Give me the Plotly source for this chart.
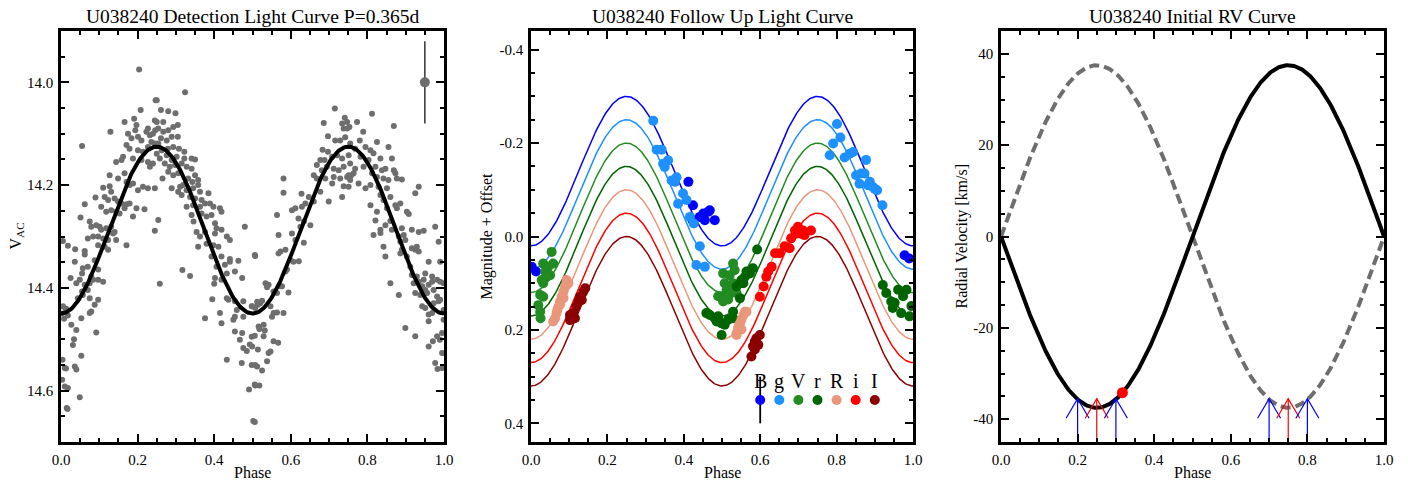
import numpy as np
import plotly.graph_objects as go

FONT = "Liberation Serif"

# ---------------- Panel 1: detection light curve ----------------
det_phase = [
 0.204,0.247,0.208,0.245,0.166,0.191,0.197,0.194,0.129,0.175,0.184,0.201,0.210,0.223,0.227,0.232,0.240,0.246,
 0.055,0.171,0.179,0.201,0.214,0.227,0.236,0.245,0.162,0.188,0.210,0.227,0.240,0.232,0.144,0.158,
 0.127,0.149,0.166,0.171,0.179,0.188,0.201,0.214,0.227,0.245,0.110,0.127,0.131,0.114,0.123,0.140,0.149,0.158,0.171,0.179,
 0.090,0.062,0.105,0.118,0.131,0.144,0.153,0.166,0.188,0.197,0.218,0.051,0.075,0.079,0.092,0.101,0.105,0.118,0.131,0.140,
 0.070,0.084,0.097,0.110,0.123,0.136,0.144,0.245,0.005,0.018,0.037,0.062,0.097,0.114,0.123,0.171,
 0.062,0.036,0.057,0.070,0.088,0.097,0.079,0.055,0.049,0.025,0.040,0.062,0.075,0.084,0.097,0.110,
 0.055,0.070,0.044,0.057,0.075,0.088,0.097,0.079,0.005,0.014,0.018,0.027,0.040,0.053,0.075,0.092,
 0.034,0.031,0.010,0.036,0.040,0.053,0.010,0.018,0.049,0.017,0.003,0.004,0.013,0.015,0.002,0.008,0.012,
 0.324,0.250,0.261,0.280,0.299,0.250,0.267,0.254,0.267,0.280,0.293,0.305,0.261,0.276,0.289,0.305,0.254,
 0.263,0.279,0.293,0.308,0.322,0.250,0.258,0.276,0.289,0.302,0.322,0.341,0.350,0.271,0.284,0.298,0.315,0.328,0.341,
 0.280,0.293,0.306,0.350,0.332,0.358,0.343,0.265,0.289,0.311,0.319,0.328,0.345,0.358,0.363,0.306,0.315,0.337,0.350,0.367,0.385,
 0.328,0.345,0.363,0.376,0.389,0.398,0.415,0.419,0.341,0.367,0.380,0.393,0.254,0.346,0.402,0.406,0.419,0.480,
 0.354,0.363,0.376,0.402,0.433,0.441,0.358,0.380,0.398,0.411,0.393,0.419,0.441,0.463,0.506,0.406,0.428,0.441,
 0.317,0.337,0.454,0.473,0.258,0.402,0.419,0.433,0.400,0.433,0.437,0.454,0.476,0.498,0.395,
 0.415,0.459,0.454,0.450,0.476,0.376,0.419,0.454,0.473,0.467,0.476,0.485,0.493,0.498,0.433,0.472,0.498,0.506,0.491,0.502,
 0.715,0.741,0.734,0.738,0.747,0.753,0.686,0.697,0.716,0.729,0.742,0.683,0.697,0.708,0.721,0.734,0.751,
 0.677,0.688,0.668,0.681,0.694,0.712,0.725,0.738,0.660,0.668,0.690,0.712,0.729,0.747,0.758,0.708,0.738,
 0.581,0.581,0.677,0.628,0.647,0.660,0.734,0.699,0.603,0.612,0.629,0.638,0.564,0.620,0.634,0.651,0.625,
 0.568,0.603,0.612,0.634,0.573,0.586,0.568,0.599,0.607,0.621,0.507,0.586,0.590,0.534,0.542,0.538,0.573,
 0.555,0.564,0.577,0.594,0.512,0.520,0.525,0.499,0.507,0.514,0.547,0.555,0.564,0.581,0.551,
 0.516,0.529,0.518,0.532,0.506,0.529,0.555,0.567,0.499,0.514,0.547,0.542,0.538,0.507,0.525,0.512,0.507,0.518,0.506,
 0.812,0.773,0.747,0.869,0.789,0.780,0.795,0.808,0.825,0.755,0.768,0.855,0.864,0.834,0.816,0.803,0.782,
 0.755,0.768,0.790,0.821,0.838,0.847,0.869,0.873,0.751,0.764,0.755,0.812,0.825,0.842,0.855,0.877,0.890,
 0.751,0.777,0.795,0.808,0.829,0.851,0.934,0.925,0.834,0.842,0.860,0.873,0.886,0.877,0.903,0.908,0.808,0.825,0.851,
 0.821,0.860,0.834,0.847,0.864,0.977,0.816,0.834,0.890,0.916,0.934,0.947,0.882,0.895,0.886,0.899,0.986,
 0.842,0.890,0.916,0.925,0.934,0.929,0.847,0.886,0.903,0.960,0.990,0.912,0.916,0.929,0.951,0.969,0.947,0.982,0.990,0.999,
 0.860,0.921,0.934,0.943,0.951,0.960,0.969,0.882,0.925,0.938,0.956,0.973,0.982,0.990,0.943,0.951,0.973,0.986,
 0.960,0.969,0.999,0.960,0.999,0.899,0.925,0.995,0.982,0.989,0.971,0.960,0.995,0.977,0.983,0.995,
]
det_mag = [
 13.975,14.035,14.054,14.074,14.077,14.071,14.083,14.093,14.096,14.100,14.109,14.106,14.113,14.096,14.090,14.103,14.100,14.093,
 14.124,14.122,14.129,14.132,14.135,14.126,14.116,14.119,14.145,14.148,14.151,14.155,14.158,14.164,14.155,14.151,
 14.181,14.187,14.177,14.194,14.200,14.197,14.210,14.203,14.206,14.206,14.205,14.202,14.213,14.223,14.229,14.226,14.232,14.236,14.237,14.236,
 14.224,14.237,14.242,14.252,14.249,14.252,14.255,14.245,14.261,14.245,14.247,14.263,14.271,14.281,14.278,14.281,14.287,14.284,14.281,14.291,
 14.304,14.300,14.300,14.304,14.307,14.294,14.307,14.289,14.309,14.318,14.325,14.328,14.317,14.320,14.326,14.317,
 14.335,14.349,14.362,14.359,14.346,14.364,14.378,14.372,14.384,14.381,14.391,14.394,14.391,14.384,14.384,14.388,
 14.407,14.404,14.420,14.414,14.420,14.433,14.423,14.446,14.436,14.441,14.454,14.472,14.482,14.459,14.449,14.487,
 14.500,14.511,14.556,14.553,14.559,14.532,14.592,14.595,14.613,14.636,14.579,14.540,14.557,14.634,14.450,14.460,14.440,
 14.019,14.035,14.054,14.056,14.060,14.077,14.077,14.090,14.096,14.093,14.087,14.083,14.109,14.113,14.106,14.106,14.119,
 14.132,14.129,14.126,14.129,14.135,14.139,14.148,14.142,14.151,14.145,14.148,14.148,14.150,14.158,14.164,14.161,14.158,14.164,14.168,
 14.174,14.181,14.177,14.181,14.187,14.190,14.194,14.187,14.206,14.203,14.200,14.210,14.206,14.200,14.213,14.213,14.219,14.223,14.226,14.229,14.216,
 14.242,14.239,14.242,14.236,14.236,14.242,14.245,14.252,14.258,14.255,14.261,14.258,14.268,14.271,14.274,14.284,14.287,14.281,
 14.291,14.300,14.291,14.294,14.300,14.307,14.320,14.314,14.317,14.320,14.339,14.339,14.344,14.347,14.336,14.359,14.355,14.349,
 14.365,14.377,14.368,14.381,14.392,14.381,14.384,14.372,14.392,14.420,14.423,14.426,14.426,14.436,14.422,
 14.449,14.443,14.456,14.462,14.456,14.459,14.469,14.485,14.488,14.501,14.517,14.523,14.510,14.495,14.540,14.546,14.550,14.588,14.598,14.659,
 14.051,14.069,14.080,14.090,14.090,14.087,14.079,14.105,14.113,14.113,14.107,14.131,14.135,14.145,14.142,14.148,14.142,
 14.151,14.151,14.161,14.171,14.164,14.168,14.171,14.164,14.181,14.187,14.187,14.184,14.187,14.184,14.181,14.197,14.202,
 14.187,14.215,14.213,14.217,14.223,14.232,14.223,14.232,14.249,14.245,14.242,14.236,14.258,14.265,14.271,14.278,14.281,
 14.297,14.294,14.307,14.312,14.329,14.326,14.333,14.346,14.349,14.348,14.338,14.368,14.364,14.391,14.394,14.399,14.397,
 14.407,14.410,14.397,14.409,14.427,14.430,14.425,14.436,14.439,14.433,14.436,14.449,14.448,14.449,14.456,
 14.475,14.472,14.480,14.483,14.493,14.494,14.504,14.507,14.514,14.520,14.524,14.527,14.543,14.550,14.561,14.553,14.590,14.590,14.661,
 14.061,14.077,14.077,14.085,14.096,14.113,14.126,14.132,14.116,14.119,14.129,14.126,14.148,14.148,14.138,14.151,14.145,
 14.158,14.168,14.164,14.164,14.171,14.168,14.171,14.177,14.181,14.177,14.190,14.177,14.184,14.187,14.190,14.187,14.189,
 14.203,14.197,14.206,14.200,14.203,14.206,14.203,14.216,14.219,14.229,14.223,14.239,14.236,14.245,14.252,14.256,14.239,14.252,14.245,
 14.269,14.270,14.287,14.278,14.287,14.281,14.297,14.293,14.284,14.287,14.291,14.289,14.300,14.297,14.310,14.307,14.310,
 14.320,14.326,14.323,14.326,14.329,14.320,14.339,14.333,14.339,14.349,14.349,14.359,14.375,14.378,14.372,14.378,14.384,14.384,14.388,14.391,
 14.391,14.391,14.388,14.397,14.404,14.394,14.388,14.414,14.410,14.414,14.410,14.404,14.417,14.423,14.436,14.439,14.430,14.426,
 14.452,14.449,14.443,14.465,14.462,14.478,14.494,14.488,14.494,14.501,14.504,14.514,14.527,14.546,14.558,14.556,
]
det_model_mean = 14.2875
det_model_amp = 0.1625
det_err_phase = [0.95]
det_err_mag = [14.0]
det_err = [0.08]

# ---------------- Panel 2: follow-up light curves ----------------
band_names = ["B", "g", "V", "r", "R", "i", "I"]
band_colors = ["#0000ff", "#1e90ff", "#228b22", "#006400", "#e9967a", "#ff0000", "#8b0000"]
band_offsets = [-0.30, -0.25, -0.20, -0.15, -0.10, -0.05, 0.0]
fu_amp = 0.16

B_phase = [0.002,0.013,0.412,0.424,0.423,0.442,0.451,0.464,0.468,0.481,0.455,0.978,0.990]
B_mag = [0.065,0.075,-0.117,-0.067,-0.035,-0.042,-0.049,-0.053,-0.056,-0.035,-0.035,0.040,0.047]
g_phase = [0.320,0.329,0.342,0.346,0.359,0.350,0.368,0.377,0.381,0.385,0.398,0.407,0.416,0.426,0.442,0.433,0.455,
           0.782,0.791,0.801,0.810,0.821,0.834,0.843,0.877,0.851,0.864,0.873,0.860,0.887,0.895,0.906,0.920,0.900,0.882]
g_mag = [-0.248,-0.186,-0.186,-0.156,-0.163,-0.149,-0.120,-0.117,-0.127,-0.070,-0.092,-0.078,-0.042,-0.028,0.021,0.061,0.065,
         -0.174,-0.199,-0.241,-0.212,-0.169,-0.177,-0.181,-0.164,-0.131,-0.135,-0.135,-0.113,-0.117,-0.106,-0.099,-0.067,-0.102,-0.110]
V_phase = [0.054,0.032,0.045,0.037,0.050,0.058,0.028,0.041,0.032,0.024,0.032,0.019,0.024,0.025,
           0.503,0.520,0.529,0.507,0.529,0.512,0.499,0.490,0.503,0.525,0.538,0.516,0.533]
V_mag = [0.033,0.058,0.065,0.075,0.083,0.058,0.093,0.086,0.100,0.125,0.129,0.147,0.161,0.175,
         0.079,0.083,0.058,0.100,0.100,0.114,0.128,0.128,0.139,0.121,0.121,0.135,0.072]
r_phase = [0.592,0.581,0.573,0.560,0.551,0.564,0.547,0.556,0.538,0.547,0.459,0.468,0.481,0.486,0.499,0.507,0.516,0.529,0.490,0.529,0.499,
           0.921,0.930,0.943,0.952,0.961,0.974,0.983,0.996,0.991,0.969,0.947]
r_mag = [0.028,0.068,0.079,0.086,0.093,0.075,0.100,0.100,0.107,0.132,0.164,0.168,0.175,0.182,0.186,0.189,0.178,0.175,0.171,0.161,0.211,
         0.104,0.121,0.139,0.142,0.114,0.128,0.114,0.149,0.171,0.164,0.153]
R_phase = [0.093,0.089,0.085,0.080,0.076,0.072,0.067,0.063,0.058,0.093,0.098,0.085,0.076,0.069,
           0.538,0.542,0.547,0.551,0.556,0.560,0.564,0.551,0.538,0.545]
R_mag = [0.093,0.107,0.118,0.129,0.139,0.150,0.164,0.175,0.182,0.104,0.100,0.132,0.146,0.157,
         0.207,0.196,0.186,0.178,0.168,0.161,0.161,0.199,0.211,0.189]
i_phase = [0.599,0.609,0.621,0.630,0.639,0.651,0.664,0.677,0.681,0.694,0.707,0.716,0.733,0.699,0.691,0.712,0.616]
i_mag = [0.129,0.107,0.075,0.065,0.036,0.036,0.021,0.025,0.004,-0.006,-0.006,-0.003,-0.013,-0.021,-0.013,-0.013,0.086]
I_phase = [0.102,0.106,0.111,0.118,0.124,0.128,0.137,0.142,0.102,0.115,0.133,0.577,0.581,0.586,0.590,0.599,0.586,0.595]
I_mag = [0.179,0.172,0.164,0.150,0.140,0.129,0.118,0.111,0.168,0.175,0.136,0.257,0.235,0.225,0.218,0.211,0.242,0.232]

band_phases = [B_phase, g_phase, V_phase, r_phase, R_phase, i_phase, I_phase]
band_mags = [B_mag, g_mag, V_mag, r_mag, R_mag, i_mag, I_mag]

legend_phase = [0.60, 0.65, 0.70, 0.75, 0.80, 0.85, 0.90]
legend_dot_mag = 0.35
legend_text_mag = 0.31
fu_err_phase = [0.60]
fu_err_mag = [0.35]
fu_err = [0.05]

# ---------------- Panel 3: RV curve ----------------
rv_K = 37.5
rv_obs_phase = [0.317]
rv_obs_vel = [-34.2]
arrow_phase = [0.20, 0.25, 0.30, 0.70, 0.75, 0.80]
arrow_colors = ["#0000ff", "#ff0000", "#0000ff", "#0000ff", "#ff0000", "#0000ff"]
arrow_tip = -35.5
arrow_wing = -39.8
arrow_base = -45.0
arrow_half = 0.03

# tick labels
p1_yticks = [14.0, 14.2, 14.4, 14.6]
p1_yticktext = ["14.0", "14.2", "14.4", "14.6"]
p2_yticks = [-0.4, -0.2, 0.0, 0.2, 0.4]
p2_yticktext = ["-0.4", "-0.2", "0.0", "0.2", "0.4"]
p3_yticks = [-40, -20, 0, 20, 40]
p3_yticktext = ["-40", "-20", "0", "20", "40"]
x_ticks = [0.0, 0.2, 0.4, 0.6, 0.8, 1.0]
x_ticktext = ["0.0", "0.2", "0.4", "0.6", "0.8", "1.0"]

titles = ["U038240 Detection Light Curve P=0.365d",
          "U038240 Follow Up Light Curve",
          "U038240 Initial RV Curve"]
ytitles = ["V<sub>AC</sub>", "Magnitude + Offset", "Radial Velocity [km/s]"]

# ---------------- figure ----------------
W, H = 1408, 480
xdom = [[61 / W, 444 / W], [531 / W, 913 / W], [1001 / W, 1384 / W]]
ydom = [1 - 442 / H, 1 - 31 / H]

fig = go.Figure()
grid = np.linspace(0, 1, 401)

# panel 1
fig.add_trace(go.Scatter(x=det_phase, y=det_mag, mode="markers",
                         marker=dict(color="#6e6e6e", size=6), xaxis="x", yaxis="y", showlegend=False))
fig.add_trace(go.Scatter(x=grid, y=det_model_mean + det_model_amp * np.cos(4 * np.pi * grid), mode="lines",
                         line=dict(color="black", width=4), xaxis="x", yaxis="y", showlegend=False))
fig.add_trace(go.Scatter(x=det_err_phase, y=det_err_mag, mode="markers",
                         marker=dict(color="#6e6e6e", size=10),
                         error_y=dict(type="data", array=det_err, color="#333333", thickness=1.5, width=0),
                         xaxis="x", yaxis="y", showlegend=False))

# panel 2
for name, col, off in zip(band_names, band_colors, band_offsets):
    fig.add_trace(go.Scatter(x=grid, y=off + fu_amp + fu_amp * np.cos(4 * np.pi * grid), mode="lines",
                             line=dict(color=col, width=1.5), xaxis="x2", yaxis="y2", showlegend=False))
for ph, mg, col in zip(band_phases, band_mags, band_colors):
    fig.add_trace(go.Scatter(x=ph, y=mg, mode="markers", marker=dict(color=col, size=10),
                             xaxis="x2", yaxis="y2", showlegend=False))
fig.add_trace(go.Scatter(x=fu_err_phase, y=fu_err_mag, mode="markers", marker=dict(size=2, color="black"),
                         error_y=dict(type="data", array=fu_err, color="black", thickness=1.8, width=0),
                         xaxis="x2", yaxis="y2", showlegend=False))
fig.add_trace(go.Scatter(x=legend_phase, y=[legend_dot_mag] * len(legend_phase), mode="markers",
                         marker=dict(color=band_colors, size=10), xaxis="x2", yaxis="y2", showlegend=False))

# panel 3
fig.add_trace(go.Scatter(x=grid, y=rv_K * np.sin(2 * np.pi * grid), mode="lines",
                         line=dict(color="#6e6e6e", width=4, dash="10px,5px"), xaxis="x3", yaxis="y3", showlegend=False))
fig.add_trace(go.Scatter(x=grid, y=-rv_K * np.sin(2 * np.pi * grid), mode="lines",
                         line=dict(color="black", width=4), xaxis="x3", yaxis="y3", showlegend=False))
for ph, col in zip(arrow_phase, arrow_colors):
    fig.add_trace(go.Scatter(x=[ph, ph, None, ph - arrow_half, ph, ph + arrow_half],
                             y=[arrow_base, arrow_tip, None, arrow_wing, arrow_tip, arrow_wing],
                             mode="lines", line=dict(color=col, width=1.2), xaxis="x3", yaxis="y3", showlegend=False))
fig.add_trace(go.Scatter(x=rv_obs_phase, y=rv_obs_vel, mode="markers", marker=dict(color="red", size=11),
                         xaxis="x3", yaxis="y3", showlegend=False))


def xax(i):
    return dict(domain=xdom[i], range=[0, 1], anchor="y" if i == 0 else f"y{i+1}",
                tickmode="array", tickvals=x_ticks, ticktext=x_ticktext, automargin=False,
                minor=dict(ticks="inside", ticklen=4, tickwidth=2, tickcolor="black",
                           tickmode="linear", tick0=0, dtick=0.05),
                showline=True, linecolor="black", linewidth=2.5, mirror="allticks",
                ticks="inside", ticklen=8, tickwidth=2, tickcolor="black",
                showgrid=False, zeroline=False, ticklabelstandoff=2,
                tickfont=dict(family=FONT, size=15, color="black"))


def yax(i, rng, vals, text, minor_dtick):
    return dict(domain=ydom, range=rng, anchor="x" if i == 0 else f"x{i+1}",
                tickmode="array", tickvals=vals, ticktext=text, automargin=False,
                minor=dict(ticks="inside", ticklen=4, tickwidth=2, tickcolor="black",
                           tickmode="linear", tick0=0, dtick=minor_dtick),
                showline=True, linecolor="black", linewidth=2.5, mirror="allticks",
                ticks="inside", ticklen=8, tickwidth=2, tickcolor="black",
                showgrid=False, zeroline=False, ticklabelstandoff=2,
                tickfont=dict(family=FONT, size=15, color="black"))


fig.update_layout(
    width=W, height=H, margin=dict(l=0, r=0, t=0, b=0, pad=0), autosize=False,
    paper_bgcolor="white", plot_bgcolor="white", showlegend=False,
    xaxis=xax(0), xaxis2=xax(1), xaxis3=xax(2),
    yaxis=yax(0, [14.7, 13.9], p1_yticks, p1_yticktext, 0.05),
    yaxis2=yax(1, [0.44, -0.44], p2_yticks, p2_yticktext, 0.05),
    yaxis3=yax(2, [-45, 45], p3_yticks, p3_yticktext, 5),
)

ann = []
for i in range(3):
    cx = (xdom[i][0] + xdom[i][1]) / 2
    ann.append(dict(text=titles[i], x=cx, y=1 - 17 / H, xref="paper", yref="paper",
                    showarrow=False, font=dict(family=FONT, size=19.5, color="black"),
                    xanchor="center", yanchor="middle"))
    ann.append(dict(text="Phase", x=cx, y=1 - 472 / H, xref="paper", yref="paper",
                    showarrow=False, font=dict(family=FONT, size=16, color="black"),
                    xanchor="center", yanchor="middle"))
ytx = [16, 486, 961]
for i in range(3):
    ann.append(dict(text=ytitles[i], x=ytx[i] / W, y=(ydom[0] + ydom[1]) / 2, xref="paper", yref="paper",
                    showarrow=False, textangle=-90, font=dict(family=FONT, size=16, color="black"),
                    xanchor="center", yanchor="middle"))
for ph, name in zip(legend_phase, band_names):
    ann.append(dict(text=name, x=ph, y=legend_text_mag, xref="x2", yref="y2", showarrow=False,
                    font=dict(family=FONT, size=20, color="black"), xanchor="center", yanchor="middle"))
fig.update_layout(annotations=ann)

fig.write_html("out.html", config={"displayModeBar": False},
               post_script="document.body.style.margin='0';document.body.style.overflow='hidden';")
